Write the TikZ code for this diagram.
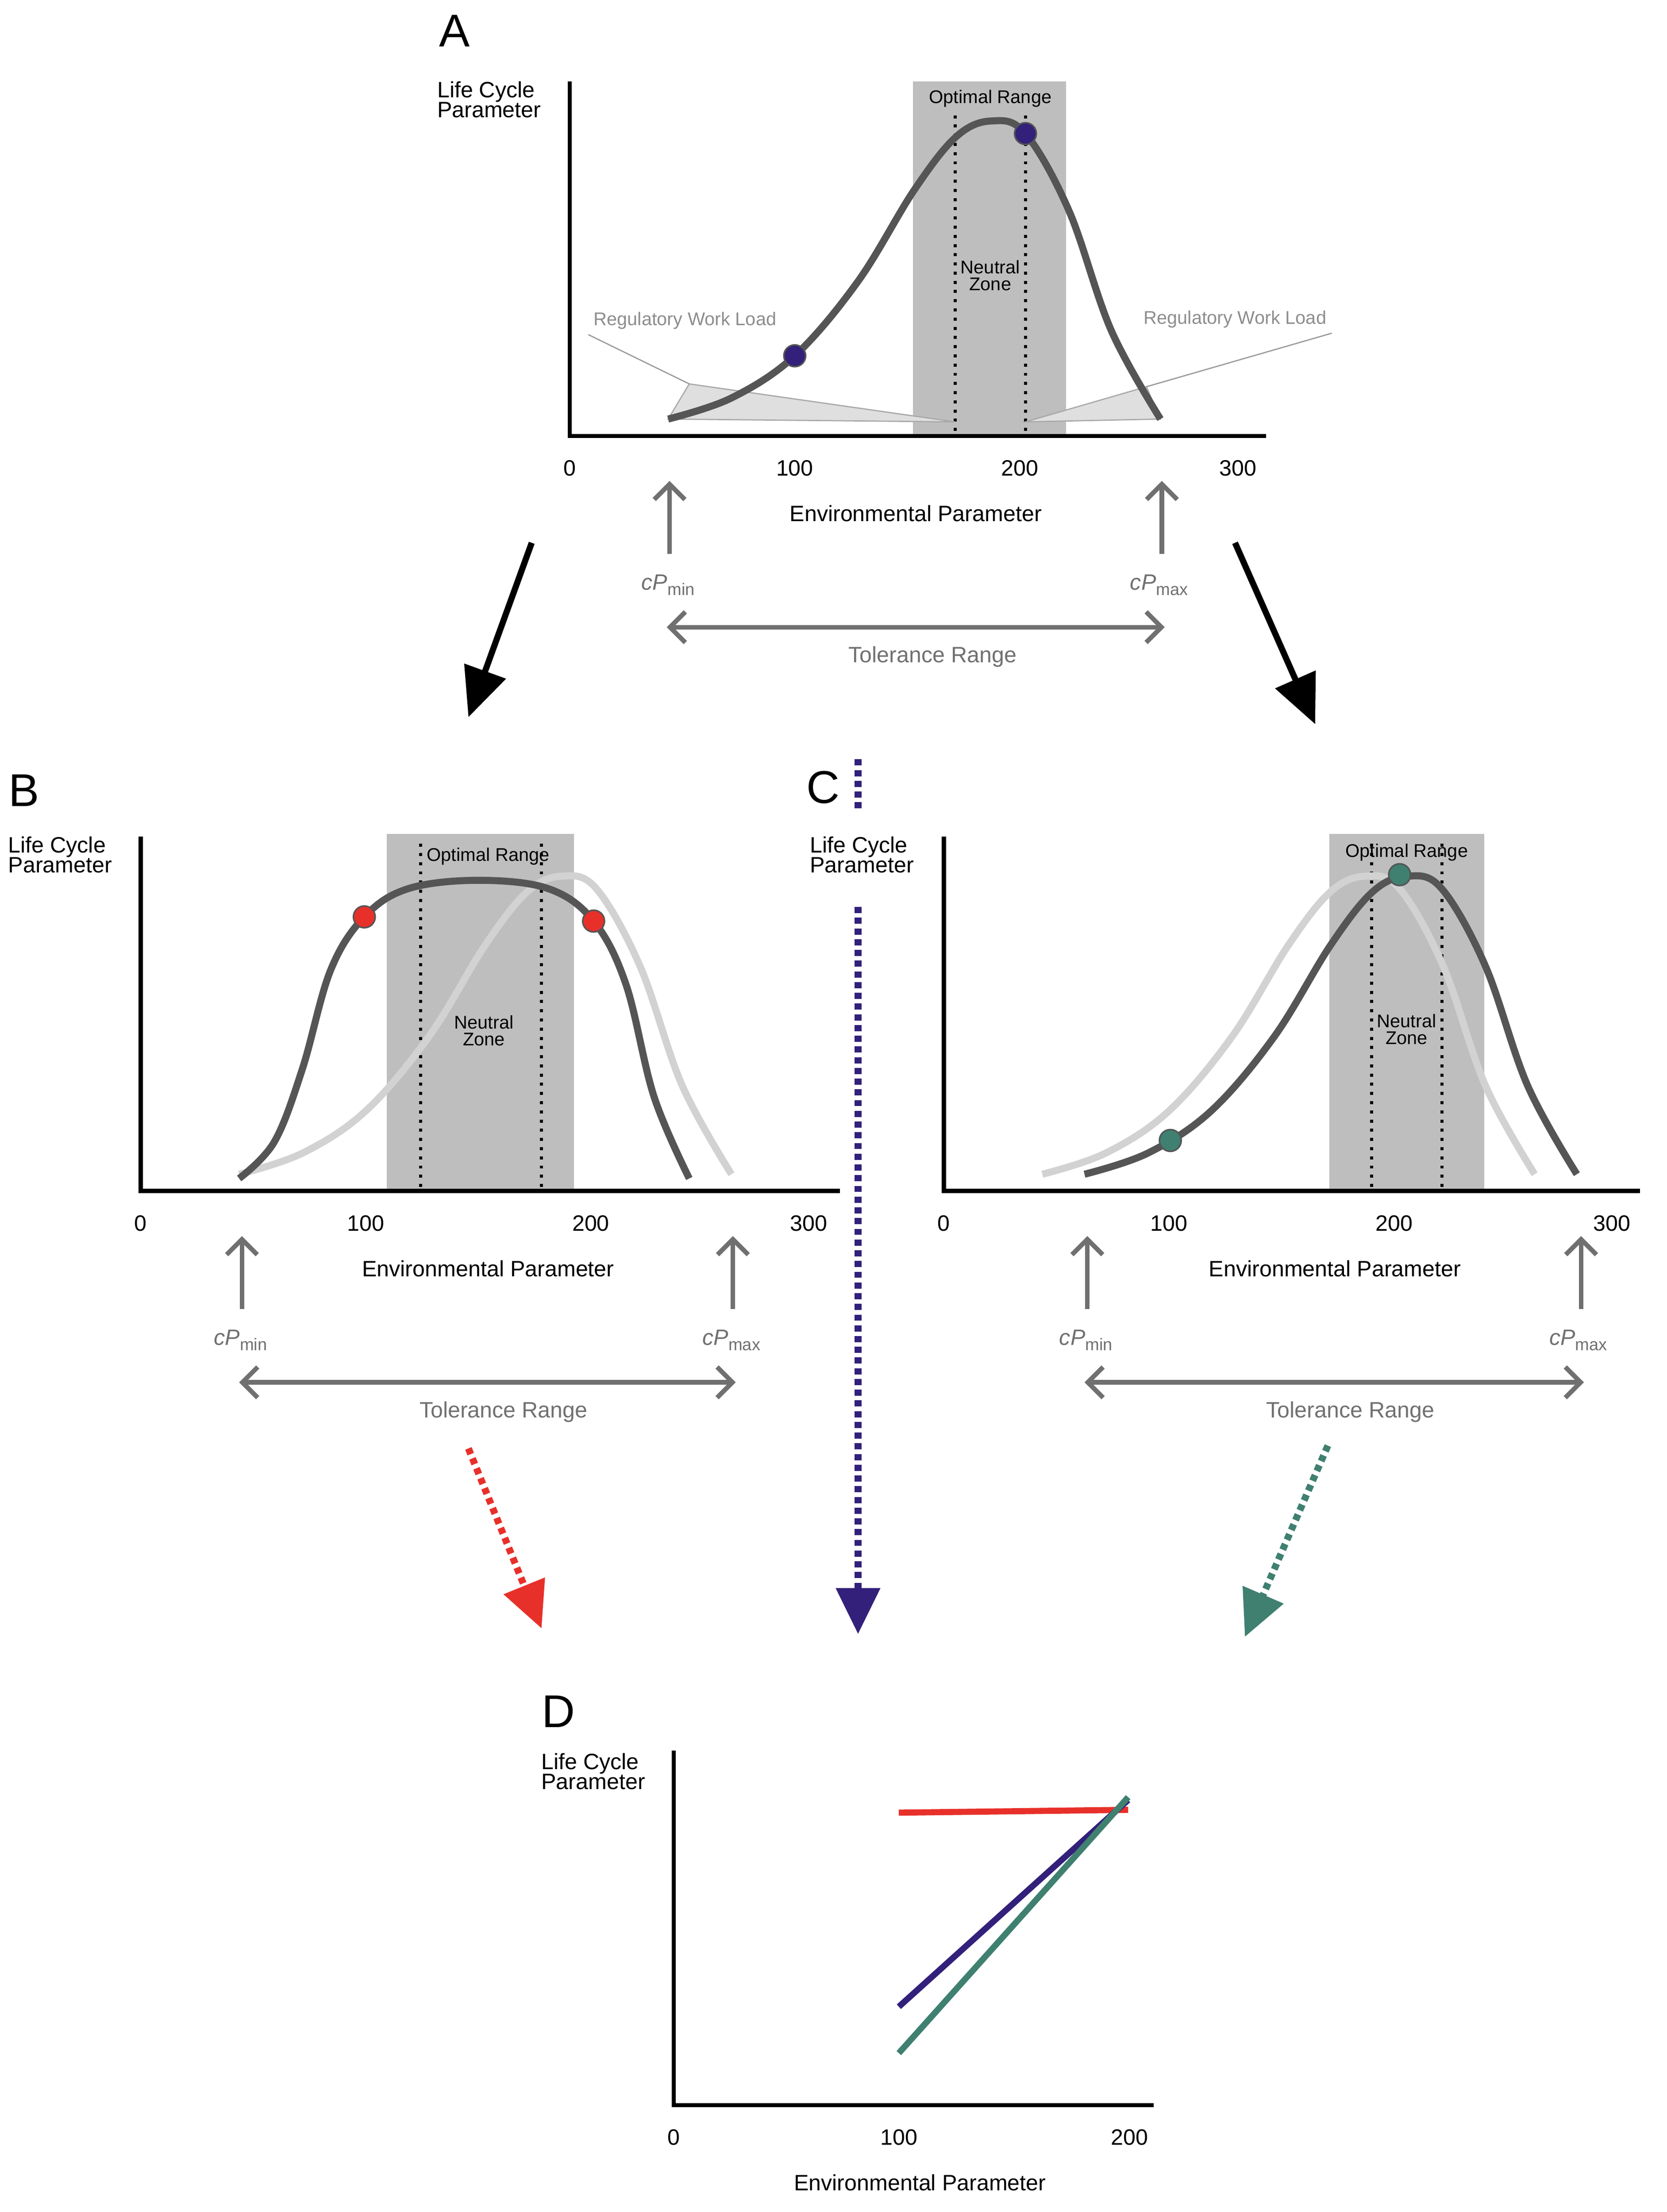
\documentclass[tikz,border=0pt]{standalone}
\usepackage{fontspec}
\setmainfont{Liberation Sans}
\usetikzlibrary{arrows.meta}
\definecolor{dk}{HTML}{555555}
\definecolor{lt}{HTML}{D2D2D2}
\definecolor{rg}{HTML}{BEBEBE}
\definecolor{ga}{HTML}{707070}
\definecolor{pu}{HTML}{33207A}
\definecolor{rd}{HTML}{E8302A}
\definecolor{gn}{HTML}{3F8070}
\newcommand\cpl[1]{{\itshape cP}\raisebox{-0.45ex}{\fontsize{11pt}{12pt}\selectfont #1}}
\begin{document}
\begin{tikzpicture}[x=0.03226cm,y=-0.03226cm,
  lab/.style={font=\fontsize{14.5pt}{16pt}\selectfont, align=left},
  sm/.style={font=\fontsize{12pt}{13pt}\selectfont, align=center},
  big/.style={font=\fontsize{30pt}{32pt}\selectfont},
  ax/.style={line width=2.8pt, black},
  crv/.style={line width=4.6pt, dk},
  lcrv/.style={line width=4.6pt, lt},
  dot/.style={circle, draw=dk, line width=1pt, minimum size=0.5cm, inner sep=0pt},
  dots/.style={line width=2pt, dotted, dash pattern=on 2pt off 4pt},
  garr/.style={line width=3pt, ga, -{Straight Barb[length=10pt,width=20pt]}},
  gdarr/.style={line width=3pt, ga, {Straight Barb[length=10pt,width=20pt]}-{Straight Barb[length=10pt,width=20pt]}},
  barr/.style={line width=4pt, black, -{Triangle[length=32pt,width=28pt]}},
  carr/.style={line width=4.5pt, dash pattern=on 4pt off 3pt, -{Triangle[length=30pt,width=28pt]}}]
\useasboundingbox (0,0) rectangle (1185,1573);
\def\curveA{(475,298)(520,283)(565,253)(610,200)(650,135)(680,97)(705,86)(729,95)(760,150)(790,235)(825,298)}
% ---------- A ----------
\node[big] (lA) at (323,22) {A};
\fill[rg] (649,58) rectangle (758,310);
\draw[dots] (679,82) -- (679,310);
\draw[dots] (729,82) -- (729,310);
\draw[ga!60, fill=lt!70, line width=0.8pt] (475,298) -- (490,273) -- (679,300) -- cycle;
\draw[ga!60, fill=lt!70, line width=0.8pt] (729,300) -- (815,275) -- (825,298) -- cycle;
\draw[crv] plot[smooth, tension=0.6] coordinates {\curveA};
\draw[ax] (405,58) -- (405,310) -- (900,310);
\node[dot, fill=pu] (dA1) at (565,253) {};
\node[dot, fill=pu] (dA2) at (729,95) {};
\node[sm] (orA) at (704,70) {Optimal Range};
\node[sm] (nzA) at (704,196) {Neutral\\[-2pt]Zone};
\node[sm, text=ga!80] (rwl) at (487,228) {Regulatory Work Load};
\node[sm, text=ga!80] (rwr) at (878,227) {Regulatory Work Load};
\coordinate (tl) at (490,273); \coordinate (tr) at (815,275);
\draw[ga!70, line width=0.8pt] (rwl.south west) ++(0,0) -- (tl);
\draw[ga!70, line width=0.8pt] (rwr.south east) -- (tr);
\node[lab, anchor=north west] (lcA) at (307,54) {Life Cycle\\[-3pt]Parameter};
\node[lab] (t0A) at (405,333) {0};
\node[lab] (t1A) at (565,333) {100};
\node[lab] (t2A) at (725,333) {200};
\node[lab] (t3A) at (880,333) {300};
\node[lab] (epA) at (651,365) {Environmental Parameter};
\coordinate (a1s) at (476,394); \coordinate (a1e) at (476,342);
\coordinate (a2s) at (826,394); \coordinate (a2e) at (826,342);
\draw[garr] (a1s) -- (a1e);
\draw[garr] (a2s) -- (a2e);
\node[lab, text=ga] (cminA) at (475,416) {\cpl{min}};
\node[lab, text=ga] (cmaxA) at (824,416) {\cpl{max}};
\coordinate (trA1) at (474,446); \coordinate (trA2) at (828,446);
\draw[gdarr] (trA1) -- (trA2);
\node[lab, text=ga] (tlA) at (663,467) {Tolerance Range};
\coordinate (bk1s) at (378,386); \coordinate (bk1e) at (333,510);
\coordinate (bk2s) at (878,386); \coordinate (bk2e) at (935,515);
\draw[barr] (bk1s) -- (bk1e);
\draw[barr] (bk2s) -- (bk2e);
% ---------- B ----------
\node[big] (lB) at (17,562) {B};
\fill[rg] (275,593) rectangle (408,847);
\draw[dots] (299,600) -- (299,847);
\draw[dots] (385,600) -- (385,847);
\begin{scope}[shift={(-305,537)}]
\draw[lcrv] plot[smooth, tension=0.6] coordinates {\curveA};
\end{scope}
\draw[crv] plot[smooth, tension=0.6] coordinates {(170,838)(195,812)(215,760)(235,690)(259,652)(290,632)(340,626)(390,632)(422,655)(445,700)(465,780)(490,838)};
\draw[ax] (100,595) -- (100,847) -- (597,847);
\node[dot, fill=rd] (dB1) at (259,652) {};
\node[dot, fill=rd] (dB2) at (422,655) {};
\node[sm] (orB) at (347,609) {Optimal Range};
\node[sm] (nzB) at (344,733) {Neutral\\[-2pt]Zone};
\node[lab, anchor=north west] (lcB) at (2,591) {Life Cycle\\[-3pt]Parameter};
\node[lab] (t0B) at (100,870) {0};
\node[lab] (t1B) at (260,870) {100};
\node[lab] (t2B) at (420,870) {200};
\node[lab] (t3B) at (575,870) {300};
\node[lab] (epB) at (347,902) {Environmental Parameter};
\coordinate (b1s) at (172,931); \coordinate (b1e) at (172,879);
\coordinate (b2s) at (521,931); \coordinate (b2e) at (521,879);
\draw[garr] (b1s) -- (b1e);
\draw[garr] (b2s) -- (b2e);
\node[lab, text=ga] (cminB) at (171,953) {\cpl{min}};
\node[lab, text=ga] (cmaxB) at (520,953) {\cpl{max}};
\coordinate (trB1) at (170,983); \coordinate (trB2) at (523,983);
\draw[gdarr] (trB1) -- (trB2);
\node[lab, text=ga] (tlB) at (358,1004) {Tolerance Range};
\coordinate (rs) at (333,1030); \coordinate (re) at (385,1158);
\draw[carr, rd] (rs) -- (re);
% ---------- C ----------
\node[big] (lC) at (585,560) {C};
\coordinate (p1s) at (610,540); \coordinate (p1e) at (610,578);
\draw[pu, line width=4.5pt, dash pattern=on 4pt off 3pt] (p1s) -- (p1e);
\coordinate (p2s) at (610,645); \coordinate (p2e) at (610,1162);
\draw[carr, pu] (p2s) -- (p2e);
\fill[rg] (945,593) rectangle (1055,847);
\draw[dots] (975,600) -- (975,847);
\draw[dots] (1025,600) -- (1025,847);
\begin{scope}[shift={(266,537)}]
\draw[lcrv] plot[smooth, tension=0.6] coordinates {\curveA};
\end{scope}
\begin{scope}[shift={(296,537)}]
\draw[crv] plot[smooth, tension=0.6] coordinates {\curveA};
\end{scope}
\draw[ax] (671,595) -- (671,847) -- (1166,847);
\node[dot, fill=gn] (dC1) at (832,811) {};
\node[dot, fill=gn] (dC2) at (995,622) {};
\node[sm] (orC) at (1000,606) {Optimal Range};
\node[sm] (nzC) at (1000,732) {Neutral\\[-2pt]Zone};
\node[lab, anchor=north west] (lcC) at (572,591) {Life Cycle\\[-3pt]Parameter};
\node[lab] (t0C) at (671,870) {0};
\node[lab] (t1C) at (831,870) {100};
\node[lab] (t2C) at (991,870) {200};
\node[lab] (t3C) at (1146,870) {300};
\node[lab] (epC) at (949,902) {Environmental Parameter};
\coordinate (c1s) at (773,931); \coordinate (c1e) at (773,879);
\coordinate (c2s) at (1124,931); \coordinate (c2e) at (1124,879);
\draw[garr] (c1s) -- (c1e);
\draw[garr] (c2s) -- (c2e);
\node[lab, text=ga] (cminC) at (772,953) {\cpl{min}};
\node[lab, text=ga] (cmaxC) at (1122,953) {\cpl{max}};
\coordinate (trC1) at (771,983); \coordinate (trC2) at (1126,983);
\draw[gdarr] (trC1) -- (trC2);
\node[lab, text=ga] (tlC) at (960,1004) {Tolerance Range};
\coordinate (gs) at (944,1028); \coordinate (ge) at (885,1164);
\draw[carr, gn] (gs) -- (ge);
% ---------- D ----------
\node[big] (lD) at (397,1217) {D};
\node[lab, anchor=north west] (lcD) at (381,1243) {Life Cycle\\[-3pt]Parameter};
\coordinate (r1) at (639,1289); \coordinate (r2) at (802,1287);
\coordinate (u1) at (639,1427); \coordinate (u2) at (802,1280);
\coordinate (g1) at (639,1460); \coordinate (g2) at (802,1278);
\draw[rd, line width=4pt] (r1) -- (r2);
\draw[pu, line width=4pt] (u1) -- (u2);
\draw[gn, line width=4pt] (g1) -- (g2);
\draw[ax] (479,1245) -- (479,1497) -- (820,1497);
\node[lab] (t0D) at (479,1520) {0};
\node[lab] (t1D) at (639,1520) {100};
\node[lab] (t2D) at (803,1520) {200};
\node[lab] (epD) at (654,1552) {Environmental Parameter};
\end{tikzpicture}
\end{document}
